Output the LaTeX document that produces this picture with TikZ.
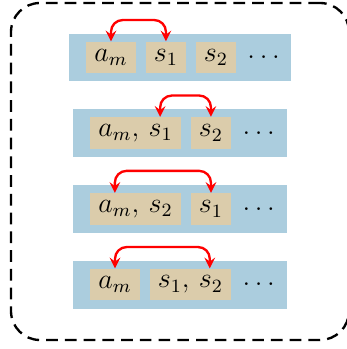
\documentclass[tikz,border=0pt]{standalone}
\usepackage{amsmath}
\usepackage{tikz}
\usetikzlibrary{arrows, positioning}
\definecolor{bandblue}{RGB}{171,205,222}
\definecolor{celltan}{RGB}{219,204,171}
\tikzstyle{frame} = [rectangle, rounded corners=0.435cm, draw=black, line width=1pt, dash pattern=on 5pt off 3pt, minimum width=5.07cm, minimum height=5.055cm]
\tikzstyle{band} = [rectangle, fill=bandblue, minimum width=3.21cm, minimum height=0.72cm, inner sep=0pt]
\tikzstyle{cell} = [rectangle, fill=celltan, minimum height=0.47cm, inner sep=0pt, font=\large]
\tikzstyle{dots} = [inner sep=0pt, font=\large]
\tikzstyle{exch} = [<->, >=stealth, red, line width=1pt, rounded corners=5pt]

\begin{document}
\begin{tikzpicture}[node distance=0.135cm]
\useasboundingbox (0,0) rectangle (5.19,-5.235);

\node (outer) [frame] at (2.70,-2.5725) {};

% first row
\node (band1) [band, minimum width=3.33cm, minimum height=0.705cm] at (2.70,-0.8625) {};
\node (c11) [cell, minimum width=0.75cm, right=0.255cm of band1.west] {$a_m$};
\node (c12) [cell, minimum width=0.6cm, right=of c11] {$s_1$};
\node (c13) [cell, minimum width=0.6cm, right=of c12] {$s_2$};
\node (d1) [dots, right=0.16cm of c13] {$\dots$};

% second row
\node (band2) [band] at (2.70,-1.995) {};
\node (c21) [cell, minimum width=1.365cm, right=0.255cm of band2.west] {$a_m,\, s_1$};
\node (c22) [cell, minimum width=0.6cm, right=of c21] {$s_2$};
\node (d2) [dots, right=0.16cm of c22] {$\dots$};

% third row
\node (band3) [band] at (2.70,-3.135) {};
\node (c31) [cell, minimum width=1.365cm, right=0.255cm of band3.west] {$a_m,\, s_2$};
\node (c32) [cell, minimum width=0.6cm, right=of c31] {$s_1$};
\node (d3) [dots, right=0.16cm of c32] {$\dots$};

% fourth row
\node (band4) [band] at (2.70,-4.2675) {};
\node (c41) [cell, minimum width=0.75cm, right=0.255cm of band4.west] {$a_m$};
\node (c42) [cell, minimum width=1.215cm, right=of c41] {$s_1,\, s_2$};
\node (d4) [dots, right=0.16cm of c42] {$\dots$};

\draw [exch] (c11.north) -- ++(0,0.32) -| (c12.north);
\draw [exch] ([xshift=0.37cm]c21.north) -- ++(0,0.32) -| (c22.north);
\draw [exch] ([xshift=-0.31cm]c31.north) -- ++(0,0.33) -| (c32.north);
\draw [exch] (c41.north) -- ++(0,0.32) -| ([xshift=0.29cm]c42.north);

\end{tikzpicture}
\end{document}
